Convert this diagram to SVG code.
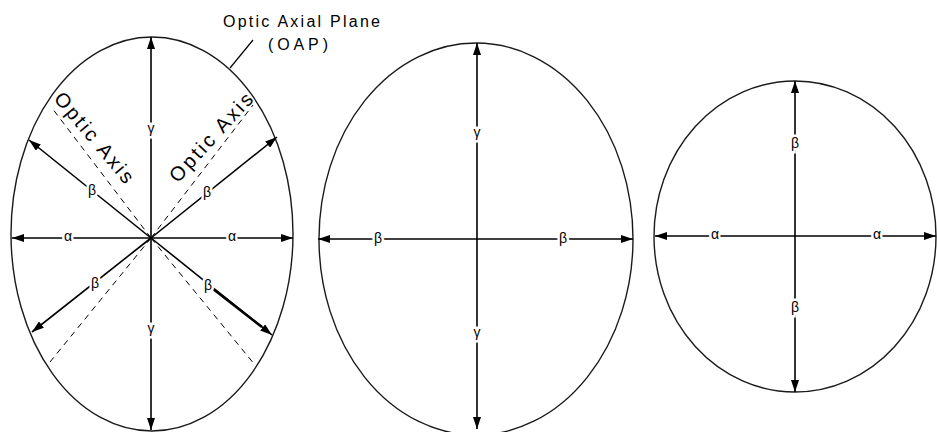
<svg xmlns="http://www.w3.org/2000/svg" width="937" height="432" viewBox="0 0 937 432">
<style>
.outline{fill:none;stroke:#1a1a1a;stroke-width:1.4}
.ax{fill:none;stroke:#000;stroke-width:1.6;marker-end:url(#ah)}
.dash{fill:none;stroke:#000;stroke-width:1;stroke-dasharray:6 5}
.g{font-family:"Liberation Sans",Arial,sans-serif;font-size:14px;fill:#000;text-anchor:middle;dominant-baseline:central;paint-order:stroke;stroke:#fff;stroke-width:5px}
.lbl{font-family:"Liberation Sans",Arial,sans-serif;font-size:16px;fill:#000}
.oa{font-family:"Liberation Sans",Arial,sans-serif;font-size:20px;fill:#000;text-anchor:middle}
</style>
<defs>
<marker id="ah" viewBox="0 0 12 8" refX="12" refY="4" markerWidth="12" markerHeight="8" markerUnits="userSpaceOnUse" orient="auto">
<path d="M0,0 L12,4 L0,8 Z" fill="#000"/>
</marker>
</defs>
<rect width="937" height="432" fill="#fff"/>

<g id="biaxial">
<ellipse class="outline" cx="152" cy="234" rx="141" ry="197"/>
<g id="biaxial-connectors">
<line class="dash" x1="151" y1="238" x2="52" y2="108"/>
<line class="dash" x1="151" y1="238" x2="253" y2="105"/>
<line class="dash" x1="151" y1="238" x2="50" y2="362"/>
<line class="dash" x1="151" y1="238" x2="255" y2="365"/>
<line class="ax" x1="151" y1="238" x2="151" y2="37"/>
<line class="ax" x1="151" y1="238" x2="151" y2="430"/>
<line class="ax" x1="151" y1="238" x2="12" y2="238"/>
<line class="ax" x1="151" y1="238" x2="293" y2="238"/>
<line class="ax" x1="151" y1="238" x2="29" y2="140"/>
<line class="ax" x1="151" y1="238" x2="277" y2="137"/>
<line class="ax" x1="151" y1="238" x2="32" y2="332"/>
<line class="ax" x1="151" y1="238" x2="272" y2="335"/>
<line x1="208" y1="285" x2="262" y2="327" stroke="#000" stroke-width="2.6"/>
<line x1="230" y1="68" x2="253" y2="40" stroke="#000" stroke-width="1.2"/>
</g>
<text class="g" x="151" y="128">γ</text>
<text class="g" x="151" y="328">γ</text>
<text class="g" x="68" y="236">α</text>
<text class="g" x="232" y="236">α</text>
<text class="g" x="92" y="190">β</text>
<text class="g" x="207" y="192">β</text>
<text class="g" x="95" y="283">β</text>
<text class="g" x="208" y="285">β</text>
<text class="oa" transform="translate(89,142) rotate(50)" textLength="112" lengthAdjust="spacing">Optic Axis</text>
<text class="oa" transform="translate(216,142) rotate(-47.5)" textLength="113" lengthAdjust="spacing">Optic Axis</text>
<text class="lbl" x="223" y="27" textLength="157" lengthAdjust="spacing">Optic Axial Plane</text>
<text class="lbl" x="268" y="50" textLength="60" lengthAdjust="spacing">(OAP)</text>
</g>

<g id="uniaxial-ellipse">
<ellipse class="outline" cx="476" cy="239" rx="157" ry="196"/>
<g id="uniaxial-ellipse-connectors">
<line class="ax" x1="477" y1="239" x2="477" y2="43"/>
<line class="ax" x1="477" y1="239" x2="477" y2="429"/>
<line class="ax" x1="477" y1="239" x2="318" y2="239"/>
<line class="ax" x1="477" y1="239" x2="633" y2="239"/>
</g>
<text class="g" x="477" y="132">γ</text>
<text class="g" x="477" y="332">γ</text>
<text class="g" x="378" y="238">β</text>
<text class="g" x="563" y="238">β</text>
</g>

<g id="uniaxial-circle">
<ellipse class="outline" cx="795" cy="236.5" rx="141" ry="155.5"/>
<g id="uniaxial-circle-connectors">
<line class="ax" x1="795" y1="236" x2="795" y2="81"/>
<line class="ax" x1="795" y1="236" x2="795" y2="392"/>
<line class="ax" x1="795" y1="236" x2="655" y2="236"/>
<line class="ax" x1="795" y1="236" x2="936" y2="236"/>
</g>
<text class="g" x="795" y="143">β</text>
<text class="g" x="795" y="307">β</text>
<text class="g" x="715" y="234">α</text>
<text class="g" x="877" y="234">α</text>
</g>
</svg>
